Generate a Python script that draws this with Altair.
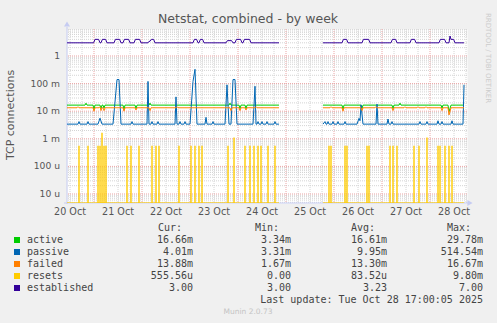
import pandas as pd
import altair as alt

# ---------------- data (time in hours since 20 Oct 00:00) ----------------
DAY_LABELS = ["20 Oct", "21 Oct", "22 Oct", "23 Oct", "24 Oct", "25 Oct", "26 Oct", "27 Oct", "28 Oct"]
DAY_NOON_HOURS = [12, 36, 60, 84, 108, 132, 156, 180, 204]
MIDNIGHT_HOURS = [24, 48, 72, 96, 120, 144, 168, 192]
SIX_HOUR_HOURS = [12, 18, 30, 36, 42, 54, 60, 66, 78, 84, 90, 102, 108, 114, 126, 132, 138,
                  150, 156, 162, 174, 180, 186, 198, 204, 210]
Y_DECADES = [1e-5, 1e-4, 1e-3, 1e-2, 1e-1, 1]
Y_LABELS = ["10 u", "100 u", "1 m", "10 m", "100 m", "1"]
X_DOMAIN = [10.5, 210.5]
Y_DOMAIN = [4.72e-6, 9.5]

# segments: (hour, value)  -- data gap between 24 Oct 20:00 and 25 Oct 18:30
SEGMENTS = [(10.5, 116.5), (138.5, 209)]

ACTIVE_L = [(10.5, 16.6), (19.5, 16.6), (20, 19.5), (20.5, 16.6), (23.5, 16.6), (24, 12.0), (24.5, 16.6),
            (27, 16.6), (27.5, 12.5), (28, 16.6), (28.5, 16.6), (29, 13.0), (29.5, 16.6), (38.5, 16.6),
            (39, 12.0), (39.5, 16.6), (44.5, 16.6), (45, 12.5), (45.5, 16.6), (51.5, 16.6), (52, 19.5),
            (52.5, 16.6), (91.5, 16.6), (92, 19.5), (92.5, 16.6), (96.5, 16.6), (97, 12.5), (97.5, 16.6),
            (99.5, 16.6), (100, 12.5), (100.5, 16.6), (116.5, 16.6)]
ACTIVE_R = [(138.5, 16.6), (148, 16.6), (148.5, 12.0), (149, 16.6), (157.5, 16.6), (158, 12.5), (158.5, 16.6),
            (173, 16.6), (173.5, 12.5), (174, 16.6), (176.5, 16.6), (177, 19.5), (177.5, 16.6), (197.5, 16.6),
            (198, 13.0), (198.5, 16.6), (201, 16.6), (201.5, 9.5), (202.5, 16.6), (209, 16.6)]

PASSIVE_L = [(10.5, 3.4), (16, 3.4), (16.5, 4.2), (17, 3.4), (20.5, 3.4), (21, 4.2), (21.5, 3.4), (26, 3.4),
             (27, 5.6), (28, 3.4), (33.5, 3.4), (35.5, 140), (36.5, 140), (37.5, 3.4), (42.5, 3.4), (43, 4.2),
             (43.5, 3.4), (50.5, 3.4), (51, 120), (51.5, 3.4), (52.5, 3.4), (53, 4.2), (53.5, 3.4), (55.5, 3.4),
             (56, 4.2), (56.5, 3.4), (64.5, 3.4), (65, 33), (65.5, 3.4), (66.5, 3.4), (67, 4.2), (67.5, 3.4),
             (69, 3.4), (69.5, 4.2), (70, 3.4), (72, 3.4), (73.5, 120), (74.5, 330), (75.5, 3.4), (79.5, 3.4),
             (80, 6.0), (80.5, 3.4), (83, 3.4), (83.5, 4.2), (84, 3.4), (89.5, 3.4), (90.5, 90), (91.5, 3.4),
             (92.5, 3.4), (93.5, 140), (94.5, 140), (95.5, 3.4), (103.5, 3.4), (104.5, 80), (105, 3.4),
             (105.5, 3.4), (106, 4.2), (106.5, 3.4), (107.5, 3.4), (108, 4.2), (108.5, 3.4), (110, 3.4),
             (110.5, 4.2), (111, 3.4), (114, 3.4), (114.5, 4.2), (115, 3.4), (116.5, 3.4)]
PASSIVE_R = [(138.5, 3.4), (139.5, 4.2), (140, 3.4), (140.5, 3.4), (141, 4.2), (141.5, 3.4), (143, 3.4),
             (143.5, 4.2), (144, 3.4), (145.5, 3.4), (146, 4.2), (146.5, 3.4), (149, 3.4), (149.5, 4.2),
             (150, 3.4), (155.5, 3.4), (156.5, 5.5), (157, 4.5), (157.5, 17), (158.5, 3.4), (165, 3.4),
             (165.5, 18), (166, 3.4), (170.5, 3.4), (171, 5.2), (171.5, 3.4), (172.5, 3.4), (173, 4.2),
             (173.5, 3.4), (186.5, 3.4), (187, 4.2), (187.5, 3.4), (190, 3.4), (190.5, 4.2), (191, 3.4),
             (195.5, 3.4), (196, 4.5), (196.5, 3.4), (197.5, 3.4), (198, 4.2), (198.5, 3.4), (202.5, 3.4),
             (203, 4.5), (203.5, 3.4), (208.5, 3.4), (209, 90)]

FAILED_L = [(10.5, 13.3), (15.5, 13.3), (16, 14.5), (16.5, 13.3), (23.5, 13.3), (24, 10.0), (24.5, 13.3),
            (26.5, 13.3), (27, 14.5), (27.5, 10.5), (28, 13.3), (28.5, 13.3), (29, 10.5), (29.5, 13.3),
            (38.5, 13.3), (39, 10.0), (39.5, 13.3), (44.5, 13.3), (45, 11.0), (45.5, 13.3), (51.5, 13.3),
            (52, 10.5), (52.5, 13.3), (65, 13.3), (65.5, 14.5), (66, 13.3), (92, 13.3), (92.5, 10.5),
            (93, 13.3), (96.5, 13.3), (97, 10.5), (97.5, 13.3), (99.5, 13.3), (100, 11.0), (100.5, 13.3),
            (104.5, 13.3), (105, 14.5), (105.5, 13.3), (116.5, 13.3)]
FAILED_R = [(138.5, 13.3), (142, 13.3), (142.5, 14.5), (143, 13.3), (148, 13.3), (148.5, 10.0), (149, 13.3),
            (157.5, 13.3), (158, 10.5), (158.5, 13.3), (164.5, 13.3), (165, 14.5), (165.5, 13.3), (173, 13.3),
            (173.5, 10.5), (174, 13.3), (179, 13.3), (179.5, 14.5), (180, 13.3), (185.5, 13.3), (186, 14.5),
            (186.5, 13.3), (189.5, 13.3), (190, 14.5), (190.5, 13.3), (197.5, 13.3), (198, 10.5),
            (198.5, 13.3), (201, 13.3), (201.5, 7.3), (202.5, 13.3), (209, 13.3)]

# resets: non-zero samples (micro); all other samples are 0
RESETS = [(16.5, 555.56), (21, 555.56), (26, 555.56), (27, 555.56), (28, 1666.7), (29, 555.56), (30, 555.56),
          (40.5, 555.56), (42.5, 555.56), (46.5, 555.56), (53, 555.56), (55, 555.56), (56.5, 555.56),
          (66.5, 555.56), (72.5, 555.56), (74.5, 555.56), (76.5, 555.56), (78, 555.56), (91, 555.56),
          (94, 1111.1), (99.5, 555.56), (102, 555.56), (104, 555.56), (106, 555.56), (107.5, 555.56),
          (111, 555.56), (114.5, 555.56),
          (141.5, 555.56), (142.5, 555.56), (149.5, 555.56), (150.5, 555.56), (160.5, 555.56),
          (161.5, 555.56), (172, 555.56), (173.5, 555.56), (175.5, 555.56), (184, 555.56), (186.5, 555.56),
          (190.5, 1111.1), (196, 555.56), (197, 555.56), (199.5, 555.56), (201.5, 555.56), (203, 555.56)]

ESTABLISHED_L = [(10.5, 3), (23.8, 3), (24.5, 4), (26.3, 4), (27, 3), (27.5, 3), (28.2, 4), (29.8, 4), (30.5, 3),
                 (34, 3), (34.7, 4), (36.8, 4), (37.5, 3), (38.5, 3), (39.2, 4), (41.3, 4), (42, 3), (44, 3),
                 (44.7, 4), (46.8, 4), (47.5, 3), (51, 3), (51.5, 3.4), (52, 3.4), (52.7, 4), (53.8, 4),
                 (54.5, 3), (73.5, 3), (74.2, 4), (75.3, 4), (76, 3), (76.5, 3), (77.2, 4), (78.3, 4), (79, 3),
                 (90, 3), (90.7, 3.6), (92.8, 3.6), (93.5, 3), (94.5, 3), (95.2, 4), (97.3, 4), (98, 3),
                 (98.5, 3), (99.2, 4), (101.8, 4), (102.5, 3), (116.5, 3)]
ESTABLISHED_R = [(138.5, 3), (148, 3), (148.7, 4), (150.3, 4), (151, 3), (158, 3), (158.7, 4), (161.3, 4),
                 (162, 3), (172.5, 3), (173.2, 4), (174.8, 4), (175.5, 3), (182, 3), (182.7, 4), (184.3, 4),
                 (185, 3), (196.5, 3), (197.2, 4), (199.3, 4), (200, 3), (201.5, 3), (202, 5.3), (202.5, 4),
                 (203.8, 4), (204.5, 3), (209, 3)]

NAMES = ["active", "passive", "failed", "resets", "established"]
COLORS = ["#00CC00", "#0066B3", "#FF8000", "#FFCC00", "#330099"]
CUR = ["16.66m", "4.01m", "13.88m", "555.56u", "3.00"]
MIN = ["3.34m", "3.31m", "1.67m", "0.00", "3.00"]
AVG = ["16.61m", "9.95m", "13.30m", "83.52u", "3.23"]
MAX = ["29.78m", "514.54m", "16.67m", "9.80m", "7.00"]
HEADERS = ["Cur:", "Min:", "Avg:", "Max:"]

# ---------------- build tables ----------------
rows = []


def add(name, seg, pts, unit):
    for t, v in pts:
        rows.append({"series": name, "seg": seg, "t": t, "v": v * unit})


add("active", 0, ACTIVE_L, 1e-3); add("active", 1, ACTIVE_R, 1e-3)
add("passive", 0, PASSIVE_L, 1e-3); add("passive", 1, PASSIVE_R, 1e-3)
add("failed", 0, FAILED_L, 1e-3); add("failed", 1, FAILED_R, 1e-3)
add("established", 0, ESTABLISHED_L, 1); add("established", 1, ESTABLISHED_R, 1)
df = pd.DataFrame(rows)

# resets: zero samples lie below a log axis, so each non-zero sample is a needle from the floor
resets_df = pd.DataFrame({"t": [t for t, _ in RESETS], "v": [v * 1e-6 for _, v in RESETS]})
resets_zero = pd.DataFrame({"t": [a for a, _ in SEGMENTS], "t2": [b for _, b in SEGMENTS]})

minor_y = [k * 10.0 ** d for d in range(-6, 1) for k in range(2, 10)
           if Y_DOMAIN[0] <= k * 10.0 ** d <= Y_DOMAIN[1]]

W, H = 400, 174
OX, OY = 67, 29  # plot origin in page pixels

xscale = alt.Scale(domain=X_DOMAIN, nice=False, zero=False)
yscale = alt.Scale(type="log", domain=Y_DOMAIN, nice=False)

FONT = "DejaVu Sans"
MONO = "DejaVu Sans Mono"
AXIS_COL = "#C6CCF2"
LABEL_COL = "#555555"

layers = []

# grid
layers.append(alt.Chart(pd.DataFrame({"t": SIX_HOUR_HOURS})).mark_rule(
    color="#D4D4D4", strokeWidth=1, strokeDash=[1, 1]).encode(x=alt.X("t:Q", scale=xscale, axis=None)))
layers.append(alt.Chart(pd.DataFrame({"v": minor_y})).mark_rule(
    color="#D4D4D4", strokeWidth=1, strokeDash=[1, 1]).encode(y=alt.Y("v:Q", scale=yscale, axis=None)))
layers.append(alt.Chart(pd.DataFrame({"t": MIDNIGHT_HOURS})).mark_rule(
    color="#EBA5A5", strokeWidth=1, strokeDash=[1, 1]).encode(x=alt.X("t:Q", scale=xscale, axis=None)))
layers.append(alt.Chart(pd.DataFrame({"v": Y_DECADES})).mark_rule(
    color="#EBA5A5", strokeWidth=1, strokeDash=[1, 1]).encode(y=alt.Y("v:Q", scale=yscale, axis=None)))

# tick labels, placed through the scales
layers.append(alt.Chart(pd.DataFrame({"t": DAY_NOON_HOURS, "label": DAY_LABELS})).mark_text(
    font=FONT, fontSize=9.6, color=LABEL_COL, align="center", baseline="middle").encode(
    x=alt.X("t:Q", scale=xscale, axis=None), y=alt.value(H + 9), text="label:N"))
layers.append(alt.Chart(pd.DataFrame({"v": Y_DECADES, "label": Y_LABELS})).mark_text(
    font=FONT, fontSize=9.2, color=LABEL_COL, align="right", baseline="middle").encode(
    y=alt.Y("v:Q", scale=yscale, axis=None), x=alt.value(-7), text="label:N"))

# axis lines and arrows
layers.append(alt.Chart(pd.DataFrame({"a": [0]})).mark_rule(color=AXIS_COL, strokeWidth=1).encode(
    x=alt.value(0), y=alt.value(-2), y2=alt.value(H + 1)))
layers.append(alt.Chart(pd.DataFrame({"a": [0]})).mark_rule(color=AXIS_COL, strokeWidth=1).encode(
    x=alt.value(-3), x2=alt.value(W + 1), y=alt.value(H)))
layers.append(alt.Chart(pd.DataFrame({"a": [0]})).mark_point(
    shape="triangle-up", filled=True, size=36, color=AXIS_COL, opacity=1).encode(
    x=alt.value(0), y=alt.value(-5)))
layers.append(alt.Chart(pd.DataFrame({"a": [0]})).mark_point(
    shape="triangle-right", filled=True, size=36, color=AXIS_COL, opacity=1).encode(
    x=alt.value(W + 3), y=alt.value(H)))

# series (drawn in munin's order)
for name, col in zip(NAMES, COLORS):
    if name == "resets":
        layers.append(alt.Chart(resets_zero).mark_rule(color=col, strokeWidth=1, opacity=0.6).encode(
            x=alt.X("t:Q", scale=xscale, axis=None), x2="t2:Q", y=alt.value(H - 0.5)))
        layers.append(alt.Chart(resets_df).mark_rule(color=col, strokeWidth=1.4, clip=True).encode(
            x=alt.X("t:Q", scale=xscale, axis=None),
            y=alt.Y("v:Q", scale=yscale, axis=None), y2=alt.value(H)))
        continue
    layers.append(alt.Chart(df).transform_filter(alt.datum.series == name).mark_line(
        color=col, strokeWidth=1, clip=True).encode(
        x=alt.X("t:Q", scale=xscale, axis=None),
        y=alt.Y("v:Q", scale=yscale, axis=None),
        detail="seg:N"))


def text_layer(s, x, y, size=10, font=MONO, color="#444444", align="left", baseline="middle", angle=None):
    kw = dict(font=font, fontSize=size, color=color, align=align, baseline=baseline)
    if angle is not None:
        kw["angle"] = angle
    return alt.Chart(pd.DataFrame({"s": [s]})).mark_text(**kw).encode(
        text="s:N", x=alt.value(x - OX), y=alt.value(y - OY))


# titles and side texts
layers.append(text_layer("Netstat, combined - by week", 248, 22.5, size=12.5, font=FONT,
                         color=LABEL_COL, align="center", baseline="alphabetic"))
layers.append(text_layer("TCP connections", 11, 115, size=11, font=FONT, color=LABEL_COL,
                         align="center", angle=270))
layers.append(text_layer("RRDTOOL / TOBI OETIKER", 488, 58, size=7, font=FONT, color="#CCCCCC",
                         align="center", angle=90))
layers.append(text_layer("Munin 2.0.73", 248, 312, size=7.5, font=FONT, color="#C4C4C4", align="center"))

# legend
HEAD_X = [158, 255, 351, 447]
VAL_RIGHT = [193, 291, 387, 483]
for h, hx in zip(HEADERS, HEAD_X):
    layers.append(text_layer(h, hx, 228))
for i, (name, col) in enumerate(zip(NAMES, COLORS)):
    cy = 240 + 12 * i
    layers.append(alt.Chart(pd.DataFrame({"a": [0]})).mark_rect(color=col).encode(
        x=alt.value(14 - OX), x2=alt.value(20 - OX), y=alt.value(cy - 3 - OY), y2=alt.value(cy + 3 - OY)))
    layers.append(text_layer(name, 27, cy))
    for vals, rx in zip([CUR, MIN, AVG, MAX], VAL_RIGHT):
        layers.append(text_layer(vals[i], rx, cy, align="right"))
layers.append(text_layer("Last update: Tue Oct 28 17:00:05 2025", 483, 300, align="right"))

chart = alt.layer(*layers).properties(
    width=W, height=H,
    autosize=alt.AutoSizeParams(type="none"),
    padding={"left": OX, "top": OY, "right": 497 - OX - W, "bottom": 323 - OY - H},
    background="#F0F0F0",
).configure_view(fill="white", stroke="transparent")

chart.save("out.html", embed_options={"renderer": "svg", "actions": False})
